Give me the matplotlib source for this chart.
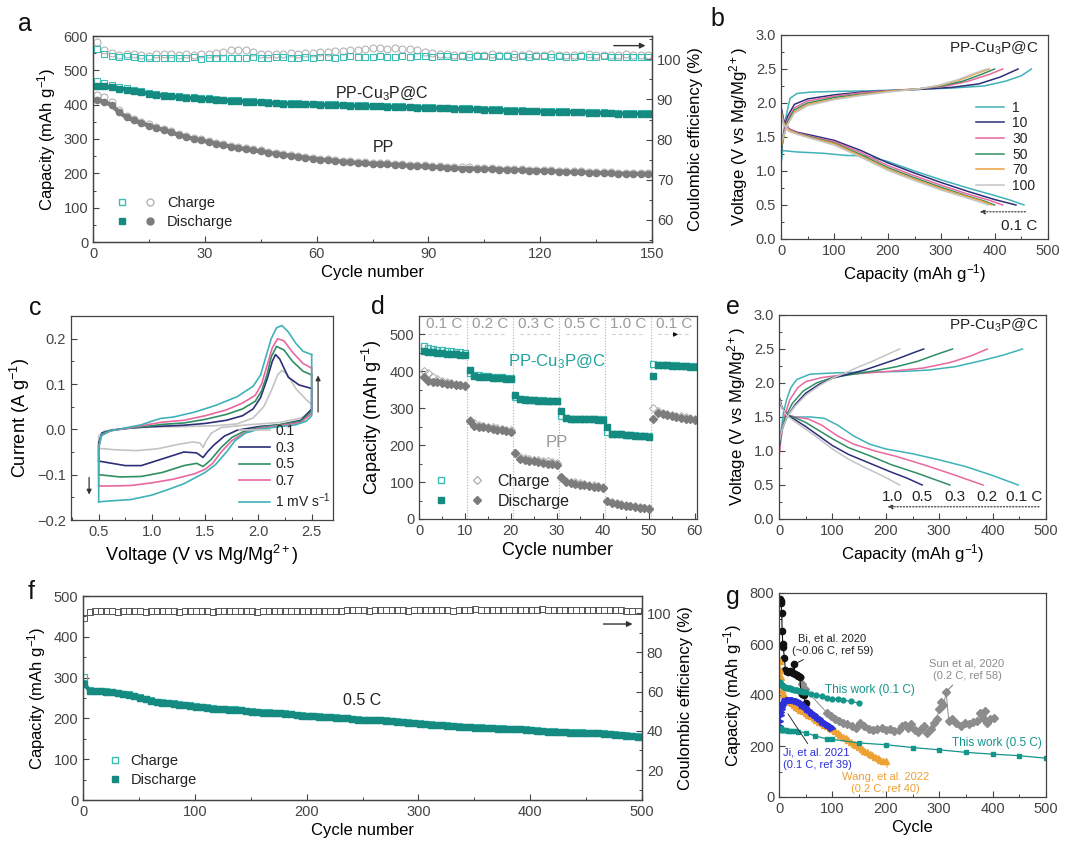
import numpy as np
import matplotlib
matplotlib.use('Agg')
import matplotlib.pyplot as plt
from matplotlib.lines import Line2D
from matplotlib.legend_handler import HandlerTuple
from matplotlib.ticker import AutoMinorLocator, MultipleLocator

plt.rcParams['font.family'] = ['Liberation Sans', 'DejaVu Sans']
plt.rcParams['mathtext.fontset'] = 'custom'
plt.rcParams['mathtext.rm'] = 'Liberation Sans'
plt.rcParams['mathtext.it'] = 'Liberation Sans:italic'
plt.rcParams['mathtext.default'] = 'regular'
plt.rcParams['axes.linewidth'] = 0.9
plt.rcParams['axes.edgecolor'] = '#444444'
plt.rcParams['xtick.color'] = '#444444'
plt.rcParams['ytick.color'] = '#444444'
plt.rcParams['text.color'] = '#222222'

TEAL = '#148a80'
TEAL_L = '#3cbcb3'
GRAY = '#7c7c7c'
GRAY_L = '#b4b4b4'
CYAN = '#3fb2b8'
NAVY = '#2c2f78'
PINK = '#e8689f'
GREEN = '#2f8f62'
ORANGE = '#e8a33d'
LGRAY = '#c4c4c4'

# ---------------- panel a : cycling at 0.1 C ----------------
cyc_a = np.arange(1, 151, 2)
a_cu_chg = [468, 463, 457, 452, 448, 443, 439, 435, 431, 428,
            426, 424, 422, 421, 419, 418, 417, 415, 414, 413,
            411, 410, 409, 407, 406, 405, 405, 404, 403, 403,
            402, 401, 401, 400, 399, 399, 398, 397, 397, 396,
            395, 395, 394, 393, 393, 392, 391, 391, 390, 389,
            389, 388, 387, 387, 386, 385, 385, 384, 383, 383,
            382, 382, 381, 381, 380, 380, 379, 378, 378, 377,
            376, 376, 376, 375, 375]
a_cu_dis = [455, 453, 450, 447, 444, 440, 436, 432, 429, 426,
            424, 422, 420, 419, 417, 416, 415, 413, 412, 411,
            409, 408, 407, 405, 404, 403, 403, 402, 401, 401,
            400, 399, 399, 398, 397, 397, 396, 395, 395, 394,
            393, 393, 392, 391, 391, 390, 389, 389, 388, 387,
            387, 386, 385, 385, 384, 383, 383, 382, 381, 381,
            380, 380, 379, 379, 378, 378, 377, 376, 376, 375,
            374, 374, 374, 373, 373]
a_pp_chg = [428, 421, 408, 385, 368, 358, 350, 343, 336, 330,
            323, 316, 310, 304, 299, 294, 289, 285, 281, 277,
            273, 270, 267, 263, 260, 257, 254, 251, 248, 246,
            243, 241, 239, 237, 235, 233, 232, 231, 230, 229,
            228, 227, 225, 224, 223, 222, 221, 219, 218, 217,
            217, 216, 215, 215, 214, 213, 213, 212, 211, 211,
            210, 209, 208, 207, 206, 206, 205, 204, 204, 203,
            202, 202, 202, 201, 201]
a_pp_dis = [413, 409, 398, 378, 363, 354, 346, 339, 332, 326,
            319, 312, 306, 300, 296, 291, 286, 282, 278, 274,
            270, 267, 264, 260, 257, 254, 251, 248, 245, 243,
            240, 238, 236, 234, 232, 230, 229, 228, 227, 226,
            225, 224, 222, 221, 220, 219, 218, 216, 215, 214,
            214, 213, 212, 212, 211, 210, 210, 209, 208, 208,
            207, 206, 205, 204, 203, 203, 202, 201, 201, 200,
            199, 199, 199, 198, 198]
a_ce_cu = [102.6, 101.2, 100.8, 100.6, 100.7, 100.5, 100.3, 100.4, 100.2, 100.3,
           100.4, 100.2, 100.3, 100.5, 100.1, 100.3, 100.4, 100.2, 100.3, 100.4,
           100.3, 100.5, 100.3, 100.4, 100.6, 100.5, 100.4, 100.3, 100.5, 100.4,
           100.6, 100.5, 100.4, 100.6, 100.7, 100.6, 100.5, 100.6, 100.7, 100.5,
           100.6, 100.7, 100.6, 100.7, 100.8, 100.6, 100.7, 100.8, 100.6, 100.7,
           100.6, 100.8, 100.7, 100.6, 100.7, 100.8, 100.6, 100.7, 100.6, 100.8,
           100.7, 100.6, 100.7, 100.5, 100.6, 100.7, 100.6, 100.5, 100.7, 100.6,
           100.5, 100.6, 100.5, 100.6, 100.5]
a_ce_pp = [104.3, 102.2, 101.5, 101.0, 101.3, 101.2, 101.1, 100.9, 101.3, 101.2,
           101.4, 101.0, 101.3, 101.1, 101.2, 101.3, 101.6, 101.9, 102.3, 102.4,
           102.2, 101.7, 101.4, 101.2, 101.4, 101.3, 101.5, 101.4, 101.6, 101.5,
           101.7, 101.8, 102.0, 102.1, 102.3, 102.4, 102.6, 102.7, 102.8, 102.6,
           102.7, 102.5, 102.6, 102.3, 101.9, 101.5, 101.3, 101.2, 101.0, 101.1,
           101.2, 101.0, 101.1, 101.2, 101.0, 101.1, 101.3, 101.0, 101.2, 101.1,
           101.0, 101.2, 101.1, 101.0, 101.1, 101.0, 101.2, 101.1, 101.0, 101.1,
           101.0, 101.2, 101.1, 101.0, 101.1]

# ---------------- panel b : GCD profiles at 0.1 C ----------------
b_labels = ['1', '10', '30', '50', '70', '100']
b_colors = [CYAN, NAVY, PINK, GREEN, ORANGE, LGRAY]
b_chg_q = [[0, 3, 8, 17, 30, 55, 100, 170, 250, 320, 380, 420, 450, 469],
           [0, 5, 12, 25, 50, 100, 150, 200, 260, 320, 370, 410, 444],
           [0, 5, 12, 25, 50, 100, 150, 200, 260, 310, 350, 390, 415],
           [0, 5, 12, 25, 50, 100, 150, 200, 260, 300, 340, 375, 400],
           [0, 5, 12, 25, 50, 100, 150, 200, 260, 300, 335, 365, 390],
           [0, 5, 12, 25, 50, 100, 150, 200, 260, 295, 330, 360, 385]]
b_chg_v = [[1.15, 1.45, 1.75, 2.07, 2.14, 2.16, 2.17, 2.18, 2.2, 2.22, 2.25, 2.32, 2.4, 2.5],
           [1.25, 1.55, 1.8, 1.98, 2.06, 2.12, 2.16, 2.18, 2.2, 2.23, 2.28, 2.38, 2.5],
           [1.3, 1.55, 1.75, 1.93, 2.03, 2.1, 2.15, 2.18, 2.21, 2.25, 2.32, 2.42, 2.5],
           [1.3, 1.5, 1.72, 1.9, 2.0, 2.08, 2.13, 2.17, 2.21, 2.25, 2.32, 2.42, 2.5],
           [1.35, 1.5, 1.68, 1.87, 1.98, 2.06, 2.12, 2.17, 2.21, 2.26, 2.34, 2.43, 2.5],
           [1.4, 1.52, 1.68, 1.85, 1.96, 2.05, 2.11, 2.16, 2.21, 2.26, 2.34, 2.43, 2.5]]
b_dis_q = [[0, 3, 30, 80, 120, 160, 200, 250, 300, 350, 400, 430, 455],
           [0, 5, 15, 30, 60, 100, 150, 200, 250, 300, 350, 400, 440],
           [0, 5, 15, 30, 60, 100, 150, 200, 250, 300, 350, 390, 415],
           [0, 5, 15, 30, 60, 100, 150, 200, 250, 300, 350, 380, 400],
           [0, 5, 15, 30, 60, 100, 150, 200, 250, 300, 350, 375, 395],
           [0, 5, 15, 30, 60, 100, 150, 200, 250, 300, 350, 370, 388]]
b_dis_v = [[1.1, 1.3, 1.28, 1.26, 1.23, 1.22, 1.14, 1.0, 0.87, 0.75, 0.64, 0.57, 0.5],
           [1.95, 1.75, 1.62, 1.57, 1.52, 1.45, 1.3, 1.12, 0.97, 0.83, 0.7, 0.58, 0.5],
           [1.9, 1.72, 1.62, 1.56, 1.5, 1.43, 1.27, 1.08, 0.93, 0.79, 0.66, 0.57, 0.5],
           [1.9, 1.7, 1.6, 1.55, 1.49, 1.41, 1.24, 1.05, 0.9, 0.76, 0.63, 0.56, 0.5],
           [1.88, 1.7, 1.6, 1.55, 1.48, 1.4, 1.22, 1.03, 0.88, 0.74, 0.62, 0.56, 0.5],
           [1.85, 1.68, 1.58, 1.54, 1.47, 1.38, 1.2, 1.01, 0.86, 0.72, 0.6, 0.55, 0.5]]

# ---------------- panel c : CV at different scan rates ----------------
c_labels = ['0.1', '0.3', '0.5', '0.7', '1 mV s$^{-1}$']
c_colors = [LGRAY, NAVY, GREEN, PINK, CYAN]
c_up_v = [[0.5, 0.5, 0.55, 0.65, 0.8, 1.0, 1.3, 1.6, 1.8, 1.95, 2.05, 2.12, 2.18, 2.22, 2.27, 2.35, 2.45, 2.5],
          [0.5, 0.5, 0.53, 0.62, 0.8, 1.0, 1.3, 1.5, 1.7, 1.85, 1.95, 2.02, 2.08, 2.13, 2.16, 2.2, 2.28, 2.38, 2.5],
          [0.5, 0.5, 0.53, 0.62, 0.8, 1.0, 1.1, 1.3, 1.5, 1.7, 1.85, 1.97, 2.03, 2.08, 2.12, 2.17, 2.24, 2.32, 2.42, 2.5],
          [0.5, 0.5, 0.53, 0.62, 0.8, 1.0, 1.1, 1.3, 1.5, 1.7, 1.85, 1.97, 2.03, 2.08, 2.13, 2.18, 2.24, 2.32, 2.42, 2.5],
          [0.5, 0.5, 0.52, 0.6, 0.75, 0.9, 1.0, 1.08, 1.2, 1.4, 1.6, 1.8, 1.95, 2.02, 2.07, 2.12, 2.17, 2.22, 2.28, 2.35, 2.42, 2.5]]
c_up_i = [[-0.042, -0.015, -0.004, 0.0, 0.003, 0.005, 0.006, 0.008, 0.012, 0.025, 0.05, 0.085, 0.12, 0.13, 0.122, 0.09, 0.065, 0.055],
          [-0.07, -0.03, -0.008, -0.002, 0.003, 0.006, 0.009, 0.013, 0.02, 0.03, 0.045, 0.07, 0.11, 0.15, 0.165, 0.155, 0.115, 0.098, 0.09],
          [-0.1, -0.035, -0.01, -0.002, 0.003, 0.008, 0.011, 0.014, 0.022, 0.033, 0.045, 0.062, 0.085, 0.12, 0.16, 0.183, 0.175, 0.15, 0.128, 0.12],
          [-0.125, -0.04, -0.012, -0.003, 0.004, 0.012, 0.016, 0.02, 0.03, 0.043, 0.058, 0.075, 0.1, 0.14, 0.18, 0.2, 0.195, 0.17, 0.145, 0.135],
          [-0.16, -0.045, -0.015, -0.004, 0.003, 0.01, 0.018, 0.024, 0.027, 0.038, 0.053, 0.072, 0.095, 0.12, 0.16, 0.2, 0.224, 0.229, 0.215, 0.19, 0.172, 0.165]]
c_dn_v = [[2.5, 2.5, 2.4, 2.2, 1.9, 1.65, 1.56, 1.51, 1.48, 1.45, 1.38, 1.25, 1.05, 0.85, 0.65, 0.5],
          [2.5, 2.5, 2.4, 2.2, 2.0, 1.8, 1.68, 1.58, 1.52, 1.48, 1.42, 1.3, 1.1, 0.9, 0.75, 0.6, 0.5],
          [2.5, 2.5, 2.4, 2.2, 2.0, 1.85, 1.75, 1.65, 1.55, 1.48, 1.42, 1.3, 1.1, 0.9, 0.7, 0.5],
          [2.5, 2.5, 2.4, 2.2, 2.0, 1.85, 1.75, 1.65, 1.57, 1.5, 1.4, 1.2, 1.0, 0.8, 0.6, 0.5],
          [2.5, 2.5, 2.45, 2.35, 2.2, 2.0, 1.88, 1.78, 1.7, 1.6, 1.5, 1.42, 1.3, 1.15, 1.0, 0.8, 0.6, 0.5]]
c_dn_i = [[0.055, 0.04, 0.025, 0.015, 0.01, 0.004, -0.008, -0.025, -0.04, -0.03, -0.028, -0.033, -0.043, -0.047, -0.045, -0.042],
          [0.09, 0.045, 0.02, 0.01, 0.006, -0.002, -0.015, -0.035, -0.05, -0.062, -0.052, -0.05, -0.065, -0.08, -0.08, -0.074, -0.07],
          [0.12, 0.04, 0.018, 0.01, 0.004, -0.006, -0.018, -0.04, -0.068, -0.082, -0.075, -0.08, -0.095, -0.104, -0.105, -0.1],
          [0.135, 0.035, 0.015, 0.008, 0.002, -0.01, -0.025, -0.05, -0.075, -0.088, -0.098, -0.11, -0.118, -0.124, -0.125, -0.125],
          [0.165, 0.03, 0.018, 0.01, 0.006, 0.0, -0.008, -0.025, -0.05, -0.077, -0.095, -0.105, -0.12, -0.133, -0.145, -0.155, -0.158, -0.16]]

# ---------------- panel d : rate performance ----------------
cyc_d = np.arange(1, 61)
d_rates = ['0.1 C', '0.2 C', '0.3 C', '0.5 C', '1.0 C', '0.1 C']
d_cu_chg = [468, 462, 460, 458, 457, 455, 454, 453, 452, 451,
            395, 390, 389, 388, 387, 386, 385, 384, 383, 382,
            330, 325, 324, 323, 323, 322, 322, 321, 321, 320,
            278, 273, 272, 272, 271, 271, 271, 270, 270, 270,
            235, 230, 229, 229, 228, 228, 227, 226, 225, 224,
            420, 418, 417, 417, 416, 416, 415, 415, 414, 414]
d_cu_dis = [455, 453, 452, 450, 449, 448, 447, 446, 445, 445,
            405, 388, 386, 385, 384, 383, 382, 381, 380, 379,
            337, 325, 323, 322, 322, 321, 321, 320, 320, 319,
            292, 273, 272, 271, 271, 270, 270, 270, 269, 269,
            250, 231, 230, 229, 228, 227, 226, 225, 224, 223,
            388, 417, 416, 416, 415, 415, 414, 414, 413, 413]
d_pp_chg = [402, 395, 385, 378, 373, 370, 368, 366, 364, 362,
            268, 260, 256, 253, 250, 248, 246, 244, 242, 240,
            178, 168, 165, 163, 161, 159, 158, 156, 154, 152,
            112, 104, 101, 99, 97, 95, 93, 91, 89, 87,
            50, 45, 42, 40, 38, 36, 35, 33, 31, 30,
            302, 292, 288, 285, 282, 280, 278, 276, 274, 272]
d_pp_dis = [386, 375, 372, 370, 368, 366, 365, 363, 362, 360,
            265, 253, 250, 248, 246, 244, 242, 240, 238, 236,
            180, 163, 160, 158, 156, 154, 152, 150, 149, 147,
            115, 100, 97, 95, 93, 91, 89, 88, 86, 85,
            50, 42, 40, 38, 36, 35, 33, 31, 30, 28,
            270, 288, 284, 281, 279, 277, 275, 272, 270, 268]

# ---------------- panel e : GCD profiles at different rates ----------------
e_labels = ['0.1', '0.2', '0.3', '0.5', '1.0']
e_colors = [CYAN, PINK, GREEN, NAVY, LGRAY]
e_chg_q = [[0, 4, 8, 14, 22, 33, 58, 108, 170, 230, 280, 330, 380, 420, 456],
           [0, 4, 10, 20, 35, 50, 80, 120, 170, 220, 270, 320, 360, 390],
           [0, 5, 12, 25, 45, 70, 100, 140, 180, 220, 260, 295, 325],
           [0, 5, 15, 30, 50, 75, 100, 130, 160, 190, 220, 250, 271],
           [0, 5, 15, 30, 50, 75, 100, 125, 150, 175, 200, 226]]
e_chg_v = [[0.95, 1.3, 1.55, 1.75, 1.93, 2.05, 2.13, 2.15, 2.16, 2.17, 2.19, 2.24, 2.33, 2.41, 2.5],
           [0.9, 1.2, 1.5, 1.75, 1.93, 2.02, 2.08, 2.12, 2.15, 2.18, 2.22, 2.3, 2.4, 2.5],
           [1.05, 1.3, 1.5, 1.7, 1.88, 2.0, 2.08, 2.13, 2.18, 2.24, 2.32, 2.42, 2.5],
           [1.05, 1.3, 1.5, 1.68, 1.85, 1.98, 2.07, 2.13, 2.19, 2.27, 2.35, 2.44, 2.5],
           [1.1, 1.3, 1.5, 1.66, 1.82, 1.96, 2.07, 2.15, 2.24, 2.32, 2.41, 2.5]]
e_dis_q = [[0, 5, 15, 30, 60, 85, 110, 140, 170, 200, 250, 300, 350, 400, 448],
           [0, 5, 15, 30, 55, 80, 110, 140, 180, 220, 270, 320, 382],
           [0, 5, 15, 30, 50, 75, 100, 130, 170, 210, 260, 320],
           [0, 5, 15, 30, 50, 75, 100, 130, 170, 210, 240, 268],
           [0, 5, 15, 30, 50, 75, 100, 130, 160, 195, 226]]
e_dis_v = [[1.8, 1.65, 1.53, 1.5, 1.5, 1.48, 1.38, 1.22, 1.1, 1.03, 0.96, 0.87, 0.77, 0.64, 0.5],
           [1.8, 1.65, 1.53, 1.5, 1.47, 1.38, 1.22, 1.1, 1.0, 0.92, 0.8, 0.67, 0.5],
           [1.8, 1.65, 1.53, 1.49, 1.42, 1.3, 1.18, 1.05, 0.93, 0.8, 0.67, 0.5],
           [1.8, 1.65, 1.53, 1.46, 1.36, 1.22, 1.08, 0.95, 0.82, 0.69, 0.6, 0.5],
           [1.78, 1.65, 1.52, 1.43, 1.32, 1.18, 1.03, 0.88, 0.76, 0.63, 0.5]]

# ---------------- panel f : long cycling at 0.5 C ----------------
cyc_f = np.arange(1, 501, 5)
f_dis = [285, 268, 267, 266, 265, 264, 262, 260, 258, 255,
         251, 247, 243, 240, 238, 237, 236, 234, 233, 231,
         229, 227, 226, 224, 223, 222, 221, 221, 220, 218,
         216, 215, 214, 214, 213, 213, 212, 210, 208, 207,
         206, 205, 204, 203, 203, 202, 201, 200, 198, 197,
         196, 196, 195, 195, 194, 193, 192, 191, 189, 188,
         187, 186, 185, 184, 183, 182, 181, 180, 179, 178,
         177, 177, 176, 176, 175, 175, 174, 174, 173, 172,
         171, 170, 168, 167, 167, 166, 166, 165, 165, 165,
         164, 164, 163, 162, 161, 160, 159, 158, 157, 155]
f_chg = [302, 270, 268, 267, 266, 265, 263, 261, 259, 256,
         252, 248, 244, 241, 239, 238, 237, 235, 234, 232,
         230, 228, 227, 225, 224, 223, 222, 222, 221, 219,
         217, 216, 215, 215, 214, 214, 213, 211, 209, 208,
         207, 206, 205, 204, 204, 203, 202, 201, 199, 198,
         197, 197, 196, 196, 195, 194, 193, 192, 190, 189,
         188, 187, 186, 185, 184, 183, 182, 181, 180, 179,
         178, 178, 177, 177, 176, 176, 175, 175, 174, 173,
         172, 171, 169, 168, 168, 167, 167, 166, 166, 166,
         165, 165, 164, 163, 162, 161, 160, 159, 158, 156]
f_ce = [97.5, 100.8, 101.2, 100.9, 101.0, 101.3, 100.8, 101.1, 101.0, 100.9,
        101.2, 100.8, 101.0, 101.1, 100.9, 101.2, 101.0, 100.8, 101.1, 101.0,
        100.9, 101.2, 101.0, 100.8, 101.1, 100.9, 101.0, 101.2, 100.9, 101.0,
        101.1, 100.8, 101.0, 101.2, 100.9, 101.0, 101.1, 100.9, 101.0, 101.1,
        100.9, 101.0, 101.1, 101.0, 100.9, 101.0, 101.1, 101.8, 101.5, 101.7,
        101.9, 101.4, 101.6, 101.8, 101.5, 101.7, 101.9, 101.6, 101.4, 101.8,
        101.6, 101.7, 101.5, 101.9, 101.6, 101.8, 101.4, 101.7, 101.6, 101.9,
        102.0, 101.7, 101.5, 101.8, 101.6, 101.9, 101.7, 101.5, 101.8, 101.6,
        101.9, 101.7, 102.0, 101.6, 101.8, 101.5, 101.9, 101.7, 101.6, 101.8,
        101.7, 101.9, 101.6, 101.8, 101.7, 101.5, 101.6, 101.4, 101.2, 101.0]

# ---------------- panel g : comparison with literature ----------------
g_bi_x = [2, 3, 4, 5, 6, 7, 8, 10, 12, 14, 17, 20, 23, 26, 28, 30, 33, 36, 39, 41, 43, 46, 50]
g_bi_y = [775, 768, 760, 720, 650, 600, 590, 545, 500, 495, 490, 495, 490, 488, 520, 482, 478, 474, 470, 410, 405, 400, 367]
g_sun_x = [40, 44, 48, 90, 97, 104, 112, 120, 128, 136, 144, 152, 160, 168, 176, 184, 192, 200, 208, 216,
           224, 230, 236, 242, 248, 254, 260, 266, 272, 278, 284, 290, 295, 300, 304, 308, 313, 318, 324, 332,
           340, 348, 356, 364, 370, 376, 382, 386, 390, 396, 402]
g_sun_y = [470, 445, 425, 330, 318, 305, 300, 292, 285, 278, 270, 290, 280, 268, 262, 265, 270, 262, 268, 260,
           262, 278, 282, 270, 285, 262, 255, 265, 280, 250, 268, 290, 305, 345, 372, 360, 410, 300, 305, 290,
           280, 292, 285, 295, 300, 330, 310, 338, 292, 305, 308]
g_ji_x = [1, 2, 3, 4, 5, 6, 8, 10, 12, 14, 16, 18, 20, 23, 26, 29, 32, 35, 38, 41,
          44, 47, 50, 53, 56, 59, 62, 65, 68, 71, 74, 77, 80, 83, 86, 89, 92, 95, 98, 100]
g_ji_y = [280, 300, 320, 335, 345, 352, 362, 370, 375, 378, 380, 381, 382, 382, 381, 380, 378, 375, 372, 368,
          362, 357, 352, 346, 340, 335, 330, 325, 320, 315, 310, 305, 300, 295, 290, 285, 281, 277, 273, 270]
g_wang_x = [1, 2, 3, 4, 5, 7, 9, 11, 14, 17, 20, 24, 28, 32, 36, 40, 45, 50, 55, 60,
            65, 70, 75, 80, 85, 90, 95, 100, 105, 110, 115, 120, 125, 130, 135, 140, 145, 150, 155, 160,
            165, 170, 175, 180, 185, 190, 195, 200]
g_wang_y = [535, 500, 470, 440, 420, 405, 398, 392, 386, 380, 374, 367, 360, 354, 348, 342, 336, 330, 323, 316,
            309, 302, 296, 290, 284, 278, 272, 265, 258, 251, 244, 237, 230, 223, 216, 209, 202, 195, 188, 181,
            175, 169, 163, 157, 152, 147, 143, 140]
g_tw1_x = [1, 2, 3, 4, 5, 6, 7, 8, 10, 12, 14, 16, 18, 20, 22, 25, 28, 31, 34, 37, 40, 45, 50,
           60, 70, 80, 90, 100, 110, 120, 135, 150]
g_tw1_y = [452, 448, 445, 442, 440, 438, 436, 435, 433, 431, 429, 428, 427, 426, 425, 423, 421, 420, 418, 417,
           415, 413, 410, 405, 400, 395, 390, 386, 383, 380, 375, 368]
g_tw5_x = [1, 2, 3, 4, 5, 6, 8, 10, 13, 16, 20, 25, 30, 36, 50, 67, 89, 100, 150, 200, 250, 300, 350, 400, 450, 500]
g_tw5_y = [270, 266, 265, 264, 264, 263, 262, 262, 261, 260, 259, 258, 257, 256, 252, 240, 228, 226, 212, 205,
           194, 185, 175, 168, 162, 152]

W, H = 1080, 859
fig = plt.figure(figsize=(W / 100, H / 100), dpi=100)


def box(x0, y0, x1, y1):
    return fig.add_axes([x0 / W, 1 - y1 / H, (x1 - x0) / W, (y1 - y0) / H])


def ticks(ax):
    ax.tick_params(which='major', length=4, width=0.8)
    ax.tick_params(which='minor', length=2, width=0.7)


def style(ax, xmaj, ymaj):
    ax.xaxis.set_major_locator(MultipleLocator(xmaj))
    ax.yaxis.set_major_locator(MultipleLocator(ymaj))
    ax.xaxis.set_minor_locator(AutoMinorLocator(2))
    ax.yaxis.set_minor_locator(AutoMinorLocator(2))
    ax.tick_params(which='both', direction='in', labelsize=10.5, top=False, right=False)
    ticks(ax)


def style_right(ax2, ymaj):
    # twin axis: only touch the y axis, the x axis is shared
    ax2.yaxis.set_major_locator(MultipleLocator(ymaj))
    ax2.yaxis.set_minor_locator(AutoMinorLocator(2))
    ax2.tick_params(axis='y', which='both', direction='in', labelsize=10.5, left=False, right=True)
    ax2.tick_params(axis='x', which='both', top=False, bottom=False, labeltop=False)
    ticks(ax2)


def letter(x, y, s):
    fig.text(x / W, 1 - y / H, s, fontsize=18, ha='center', va='center', color='#111111')


def legend_pairs(ax, handles, **kw):
    return ax.legend(handles=handles, labels=['Charge', 'Discharge'],
                     handler_map={tuple: HandlerTuple(ndivide=None, pad=1.2)},
                     frameon=False, handletextpad=0.8, labelspacing=0.3, **kw)


# ===== a =====
ax = box(93, 36, 652, 242)
ax.plot(cyc_a, a_pp_chg, 'o', mfc='none', mec=GRAY_L, ms=5, mew=0.8)
ax.plot(cyc_a, a_pp_dis, '-', color=GRAY, lw=3)
ax.plot(cyc_a, a_pp_dis, 'o', color=GRAY, ms=4.5)
ax.plot(cyc_a, a_cu_chg, 's', mfc='none', mec=TEAL_L, ms=4.5, mew=0.8)
ax.plot(cyc_a, a_cu_dis, '-', color=TEAL, lw=3)
ax.plot(cyc_a, a_cu_dis, 's', color=TEAL, ms=4)
ax.set_xlim(0, 150)
ax.set_ylim(0, 600)
style(ax, 30, 100)
ax.set_xlabel('Cycle number', fontsize=12, labelpad=3)
ax.set_ylabel('Capacity (mAh g$^{-1}$)', fontsize=12, labelpad=4)
ax.text(77.5, 432, 'PP-Cu$_3$P@C', ha='center', va='center', fontsize=11.5)
ax.text(78, 275, 'PP', ha='center', va='center', fontsize=11.5)
ax2 = ax.twinx()
ax2.plot(cyc_a, a_ce_pp, 'o', mfc='none', mec=GRAY_L, ms=5, mew=0.8)
ax2.plot(cyc_a, a_ce_cu, 's', mfc='none', mec=TEAL_L, ms=4.5, mew=0.8)
ax2.set_ylim(54.5, 105.8)
style_right(ax2, 10)
ax2.set_ylabel('Coulombic efficiency (%)', fontsize=12, labelpad=5)
ax2.annotate('', xy=(149, 103.4), xytext=(139, 103.4),
             arrowprops=dict(arrowstyle='-|>', color='#333333', lw=1, mutation_scale=8))
h = [(Line2D([], [], ls='none', marker='s', mfc='none', mec=TEAL_L, ms=5),
      Line2D([], [], ls='none', marker='o', mfc='none', mec=GRAY_L, ms=5)),
     (Line2D([], [], ls='none', marker='s', color=TEAL, ms=5),
      Line2D([], [], ls='none', marker='o', color=GRAY, ms=5))]
legend_pairs(ax, h, loc='lower left', bbox_to_anchor=(0.02, 0.0), fontsize=10.5, handlelength=2.6)

# ===== b =====
ax = box(781, 35, 1048, 239)
lines_b = []
for lab, col, cq, cv, dq, dv in zip(b_labels, b_colors, b_chg_q, b_chg_v, b_dis_q, b_dis_v):
    ln, = ax.plot(cq, cv, color=col, lw=1.1, label=lab)
    ax.plot(dq, dv, color=col, lw=1.1)
    lines_b.append(ln)
ax.set_xlim(0, 500)
ax.set_ylim(0, 3)
style(ax, 100, 0.5)
ax.yaxis.set_major_formatter('{x:.1f}')
ax.set_xlabel('Capacity (mAh g$^{-1}$)', fontsize=12, labelpad=3)
ax.set_ylabel('Voltage (V vs Mg/Mg$^{2+}$)', fontsize=12, labelpad=4)
ax.text(482, 2.8, 'PP-Cu$_3$P@C', ha='right', va='center', fontsize=11)
ax.annotate('', xy=(367, 0.4), xytext=(463, 0.4),
            arrowprops=dict(arrowstyle='-|>', color='#444444', lw=0.9, ls=(0, (1, 1.5)), mutation_scale=7))
ax.text(480, 0.19, '0.1 C', ha='right', va='center', fontsize=11)
ax.legend(handles=lines_b, loc='upper right', bbox_to_anchor=(1.0, 0.74), frameon=False,
          fontsize=10, handlelength=2.0, labelspacing=0.12, handletextpad=0.6)

# ===== c =====
ax = box(71, 316, 333, 520)
lines_c = []
for lab, col, uv, ui, dv, di in zip(c_labels, c_colors, c_up_v, c_up_i, c_dn_v, c_dn_i):
    ln, = ax.plot(uv, ui, color=col, lw=1.2, label=lab)
    ax.plot(dv, di, color=col, lw=1.2)
    lines_c.append(ln)
ax.set_xlim(0.24, 2.70)
ax.set_ylim(-0.2, 0.25)
style(ax, 0.5, 0.1)
ax.xaxis.set_major_formatter('{x:.1f}')
ax.yaxis.set_major_formatter('{x:.1f}')
ax.set_xlabel('Voltage (V vs Mg/Mg$^{2+}$)', fontsize=13, labelpad=3)
ax.set_ylabel('Current (A g$^{-1}$)', fontsize=13, labelpad=4)
ax.annotate('', xy=(0.41, -0.15), xytext=(0.41, -0.1),
            arrowprops=dict(arrowstyle='-|>', color='#333333', lw=0.9, mutation_scale=7))
ax.annotate('', xy=(2.56, 0.125), xytext=(2.56, 0.032),
            arrowprops=dict(arrowstyle='-|>', color='#333333', lw=0.9, mutation_scale=7))
ax.legend(handles=lines_c, loc='lower right', bbox_to_anchor=(1.04, -0.01), frameon=False,
          fontsize=10, handlelength=2.2, labelspacing=0.2, handletextpad=0.4)

# ===== d =====
ax = box(419, 316, 697, 519)
for k in range(1, 6):
    ax.axvline(10 * k + 0.5, color='#b0b0b0', lw=0.8, ls=(0, (1, 1.5)))
for k, r in enumerate(d_rates):
    ax.text(10 * k + 5.5, 528, r, ha='center', va='center', fontsize=11, color='#9a9a9a')
    ax.hlines(500, 10 * k + 2, 10 * k + 9, color='#d0d0d0', lw=0.8, linestyles=(0, (3, 3)))
ax.annotate('', xy=(57, 500), xytext=(55.2, 500),
            arrowprops=dict(arrowstyle='-|>', color='#111111', lw=0.8, mutation_scale=6))
ax.plot(cyc_d, d_pp_chg, 'D', mfc='none', mec=GRAY_L, ms=4.5, mew=0.8)
ax.plot(cyc_d, d_pp_dis, 'D', color=GRAY, ms=4.5)
ax.plot(cyc_d, d_cu_chg, 's', mfc='none', mec=TEAL_L, ms=5, mew=0.9)
ax.plot(cyc_d, d_cu_dis, 's', color=TEAL, ms=4.5)
ax.set_xlim(0, 60.5)
ax.set_ylim(0, 550)
style(ax, 10, 100)
ax.set_xlabel('Cycle number', fontsize=13, labelpad=3)
ax.set_ylabel('Capacity (mAh g$^{-1}$)', fontsize=13, labelpad=4)
ax.text(30, 425, 'PP-Cu$_3$P@C', ha='center', va='center', fontsize=12, color='#1fa39a')
ax.text(30, 206, 'PP', ha='center', va='center', fontsize=12, color='#9a9a9a')
h = [(Line2D([], [], ls='none', marker='s', mfc='none', mec=TEAL_L, ms=5),
      Line2D([], [], ls='none', marker='D', mfc='none', mec=GRAY_L, ms=4.5)),
     (Line2D([], [], ls='none', marker='s', color=TEAL, ms=5),
      Line2D([], [], ls='none', marker='D', color=GRAY, ms=4.5))]
legend_pairs(ax, h, loc='lower left', bbox_to_anchor=(0.0, -0.02), fontsize=11.5, handlelength=3.2)

# ===== e =====
ax = box(779, 315, 1046, 519)
for col, cq, cv, dq, dv in zip(e_colors, e_chg_q, e_chg_v, e_dis_q, e_dis_v):
    ax.plot(cq, cv, color=col, lw=1.1)
    ax.plot(dq, dv, color=col, lw=1.1)
ax.set_xlim(0, 500)
ax.set_ylim(0, 3)
style(ax, 100, 0.5)
ax.yaxis.set_major_formatter('{x:.1f}')
ax.set_xlabel('Capacity (mAh g$^{-1}$)', fontsize=12, labelpad=3)
ax.set_ylabel('Voltage (V vs Mg/Mg$^{2+}$)', fontsize=12, labelpad=4)
ax.text(485, 2.85, 'PP-Cu$_3$P@C', ha='right', va='center', fontsize=11)
for lab, xq in zip(['1.0', '0.5', '0.3', '0.2', '0.1 C'], [212, 268, 330, 389, 460]):
    ax.text(xq, 0.33, lab, ha='center', va='center', fontsize=11)
ax.annotate('', xy=(198, 0.18), xytext=(492, 0.18),
            arrowprops=dict(arrowstyle='-|>', color='#444444', lw=0.9, ls=(0, (1, 1.5)), mutation_scale=7))

# ===== f =====
ax = box(83, 596, 642, 800)
ax.plot(cyc_f, f_chg, 's', mfc='none', mec=TEAL_L, ms=4, mew=0.8)
ax.plot(cyc_f, f_dis, '-', color=TEAL, lw=3)
ax.plot(cyc_f, f_dis, 's', color=TEAL, ms=3.8)
ax.set_xlim(0, 500)
ax.set_ylim(0, 500)
style(ax, 100, 100)
ax.set_xlabel('Cycle number', fontsize=12, labelpad=3)
ax.set_ylabel('Capacity (mAh g$^{-1}$)', fontsize=12, labelpad=4)
ax.text(250, 245, '0.5 C', ha='center', va='center', fontsize=11.5)
ax2 = ax.twinx()
ax2.plot(cyc_f, f_ce, 's', mfc='none', mec='#555555', ms=4, mew=0.7)
ax2.set_ylim(4.7, 108.8)
style_right(ax2, 20)
ax2.set_ylabel('Coulombic efficiency (%)', fontsize=12, labelpad=5)
ax2.annotate('', xy=(494, 94.5), xytext=(463, 94.5),
             arrowprops=dict(arrowstyle='-|>', color='#333333', lw=1, mutation_scale=8))
h = [Line2D([], [], ls='none', marker='s', mfc='none', mec=TEAL_L, ms=5),
     Line2D([], [], ls='none', marker='s', color=TEAL, ms=5)]
ax.legend(handles=h, labels=['Charge', 'Discharge'], loc='lower left', bbox_to_anchor=(0.02, 0.0),
          frameon=False, fontsize=10.5, handlelength=1.0, handletextpad=0.6, labelspacing=0.3)

# ===== g =====
ax = box(779, 593, 1046, 797)
ax.plot(g_sun_x, g_sun_y, '-D', color='#8c8c8c', ms=3.8, lw=0.7)
ax.plot(g_bi_x, g_bi_y, '-o', color='#111111', mec='#111111', ms=4.5, lw=0.8)
ax.plot(g_wang_x, g_wang_y, '-^', color='#efa032', ms=4, lw=0.8)
ax.plot(g_ji_x, g_ji_y, '->', color='#2d2fd8', ms=3.8, lw=0.8)
ax.plot(g_tw1_x, g_tw1_y, '-o', color='#13958a', ms=3.5, lw=0.9)
ax.plot(g_tw5_x, g_tw5_y, '-s', color='#13958a', ms=3.5, lw=0.9)
ax.set_xlim(0, 500)
ax.set_ylim(0, 800)
style(ax, 100, 200)
ax.set_xlabel('Cycle', fontsize=12, labelpad=3)
ax.set_ylabel('Capacity (mAh g$^{-1}$)', fontsize=12, labelpad=4)
ax.annotate('Bi, et al. 2020\n(~0.06 C, ref 59)', xy=(28, 520), xytext=(100, 596),
            ha='center', va='center', fontsize=8, color='#222222', linespacing=1.3,
            arrowprops=dict(arrowstyle='-', color='#222222', lw=0.7, shrinkA=1, shrinkB=2))
ax.annotate('Sun et al, 2020\n(0.2 C, ref 58)', xy=(313, 412), xytext=(352, 498),
            ha='center', va='center', fontsize=8, color='#8c8c8c', linespacing=1.3,
            arrowprops=dict(arrowstyle='-', color='#777777', lw=0.7, shrinkA=1, shrinkB=2))
ax.annotate('Ji, et al. 2021\n(0.1 C, ref 39)', xy=(14, 335), xytext=(8, 150),
            ha='left', va='center', fontsize=8, color='#2d2fd8', linespacing=1.3,
            arrowprops=dict(arrowstyle='-', color='#333333', lw=0.7, shrinkA=1, shrinkB=2))
ax.annotate('Wang, et al. 2022\n(0.2 C, ref 40)', xy=(203, 140), xytext=(200, 55),
            ha='center', va='center', fontsize=8, color='#efa032', linespacing=1.3,
            arrowprops=dict(arrowstyle='-', color='#efa032', lw=0.7, shrinkA=1, shrinkB=2))
ax.text(170, 420, 'This work (0.1 C)', ha='center', va='center', fontsize=8.5, color='#13958a')
ax.text(492, 212, 'This work (0.5 C)', ha='right', va='center', fontsize=8.5, color='#13958a')

letter(25, 24, 'a')
letter(717, 19, 'b')
letter(35, 308, 'c')
letter(378, 307, 'd')
letter(733, 307, 'e')
letter(31, 592, 'f')
letter(733, 597, 'g')

fig.savefig('out.png', dpi=100)
